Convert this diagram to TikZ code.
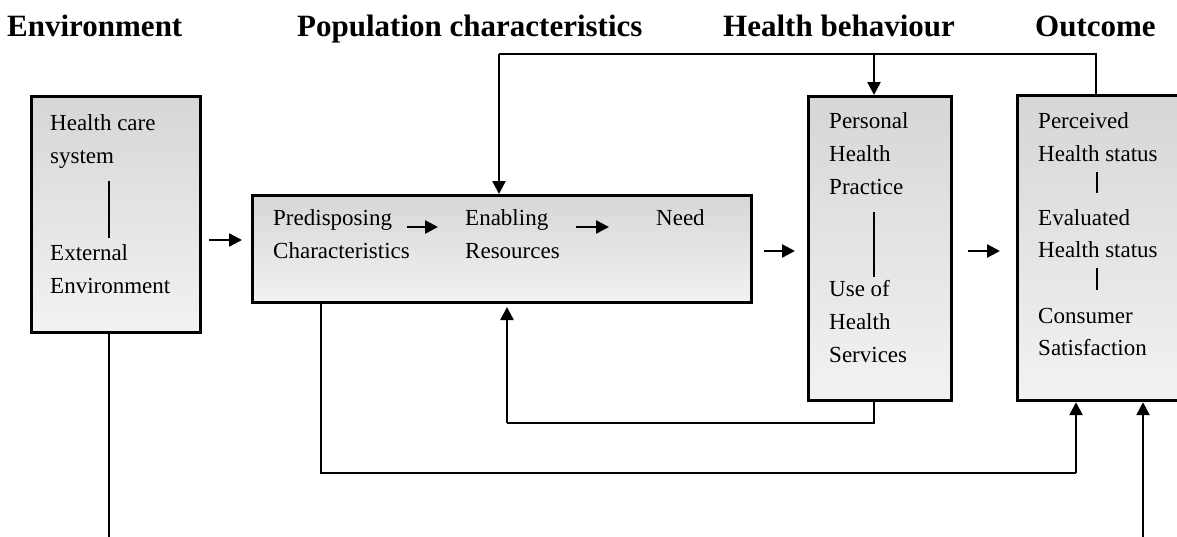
\documentclass[tikz,border=0pt]{standalone}
\usepackage{fontspec}
\setmainfont{Liberation Serif}
\usetikzlibrary{arrows.meta,calc}
\tikzset{
  box/.style={draw=black,line width=3.2pt,rectangle,inner sep=0pt,anchor=north west,
    top color=black!16,bottom color=black!5},
  shadowbox/.style={fill=black!45,draw=none,rectangle,inner sep=0pt,anchor=north west},
  title/.style={font=\fontsize{31}{36}\selectfont\bfseries,anchor=base west,inner sep=0pt},
  txt/.style={font=\fontsize{23}{33}\selectfont,anchor=base west,inner sep=0pt},
  conn/.style={line width=2.1pt},
  arr/.style={line width=2.5pt,-{Triangle[length=13pt,width=13pt]}},
  tick/.style={line width=2.3pt}
}
\begin{document}
\begin{tikzpicture}[x=1pt,y=-1pt]
\useasboundingbox (0,0) rectangle (1177,536);
\clip (0,0) rectangle (1177,536);
\fill[white] (0,0) rectangle (1177,536);
% titles
\node[title] (t1) at (7,36) {Environment};
\node[title] (t2) at (297,36) {Population characteristics};
\node[title] (t3) at (723,36) {Health behaviour};
\node[title] (t4) at (1035,36) {Outcome};
% shadows
\node[shadowbox,minimum width=169pt,minimum height=236pt] (envs) at (31.5,96.5) {};
\node[shadowbox,minimum width=499pt,minimum height=107pt] (pops) at (252.5,195.5) {};
\node[shadowbox,minimum width=143pt,minimum height=304pt] (hbs) at (808.5,96.5) {};
\node[shadowbox,minimum width=174pt,minimum height=305pt] (outs) at (1017.5,95.5) {};
% boxes
\node[box,minimum width=169pt,minimum height=236pt] (env) at (30,95) {};
\node[box,minimum width=499pt,minimum height=107pt] (pop) at (251,194) {};
\node[box,minimum width=143pt,minimum height=304pt] (hb) at (807,95) {};
\node[box,minimum width=180pt,minimum height=305pt] (out) at (1016,94) {};
% environment texts
\node[txt] (e1) at (50,130) {Health care};
\node[txt] (e2) at (50,163) {system};
\node[txt] (e3) at (50,260) {External};
\node[txt] (e4) at (50,293) {Environment};
\coordinate (ea) at (109,181);
\coordinate (eb) at (109,238);
\draw[tick] (ea) -- (eb);
% population texts
\node[txt] (p1) at (273,225) {Predisposing};
\node[txt] (p2) at (273,258) {Characteristics};
\node[txt] (p3) at (465,225) {Enabling};
\node[txt] (p4) at (465,258) {Resources};
\node[txt] (p5) at (656,225) {Need};
\coordinate (pa1) at (407,227); \coordinate (pa2) at (438,227);
\coordinate (pb1) at (576,227); \coordinate (pb2) at (609,227);
\draw[arr] (pa1) -- (pa2);
\draw[arr] (pb1) -- (pb2);
% health behaviour texts
\node[txt] (h1) at (829,128) {Personal};
\node[txt] (h2) at (829,161) {Health};
\node[txt] (h3) at (829,194) {Practice};
\node[txt] (h4) at (829,296) {Use of};
\node[txt] (h5) at (829,329) {Health};
\node[txt] (h6) at (829,362) {Services};
\coordinate (ha) at (874,212);
\coordinate (hbb) at (874,277);
\draw[tick] (ha) -- (hbb);
% outcome texts
\node[txt] (o1) at (1038,128) {Perceived};
\node[txt] (o2) at (1038,161) {Health status};
\node[txt] (o3) at (1038,225) {Evaluated};
\node[txt] (o4) at (1038,257) {Health status};
\node[txt] (o5) at (1038,323) {Consumer};
\node[txt] (o6) at (1038,355) {Satisfaction};
\coordinate (oa) at (1097,172); \coordinate (ob) at (1097,193);
\coordinate (oc) at (1097,268); \coordinate (od) at (1097,290);
\draw[tick] (oa) -- (ob);
\draw[tick] (oc) -- (od);
% short arrows between boxes
\coordinate (a1) at (209,240); \coordinate (a2) at (242,240);
\coordinate (b1) at (764,251); \coordinate (b2) at (795,251);
\coordinate (c1) at (968,251); \coordinate (c2) at (1000,251);
\draw[arr] (a1) -- (a2);
\draw[arr] (b1) -- (b2);
\draw[arr] (c1) -- (c2);
% top feedback
\coordinate (tr) at (1096,54);
\coordinate (tm) at (874,54);
\coordinate (tl) at (499,54);
\draw[conn] (tr |- out.north) -- (tr) -- (tl);
\draw[arr] (tl) -- (tl |- pop.north);
\draw[arr] (tm) -- (tm |- hb.north);
% feedback from health behaviour to population
\coordinate (f1) at (874,423);
\coordinate (f2) at (507,423);
\coordinate (f3) at (507,307);
\draw[conn] (f1 |- hb.south) -- (f1) -- (f2);
\draw[arr] (f2) -- (f3);
% population to outcome
\coordinate (g1) at (321,473);
\coordinate (g2) at (1076,473);
\draw[conn] (g1 |- pop.south) -- (g1) -- (g2);
\draw[arr] (g2) -- (g2 |- out.south);
% environment line down and right arrow up
\coordinate (k1) at (109,540);
\draw[conn] (k1 |- env.south) -- (k1);
\coordinate (k2) at (1143,540);
\draw[arr] (k2) -- (k2 |- out.south);
\end{tikzpicture}
\end{document}
